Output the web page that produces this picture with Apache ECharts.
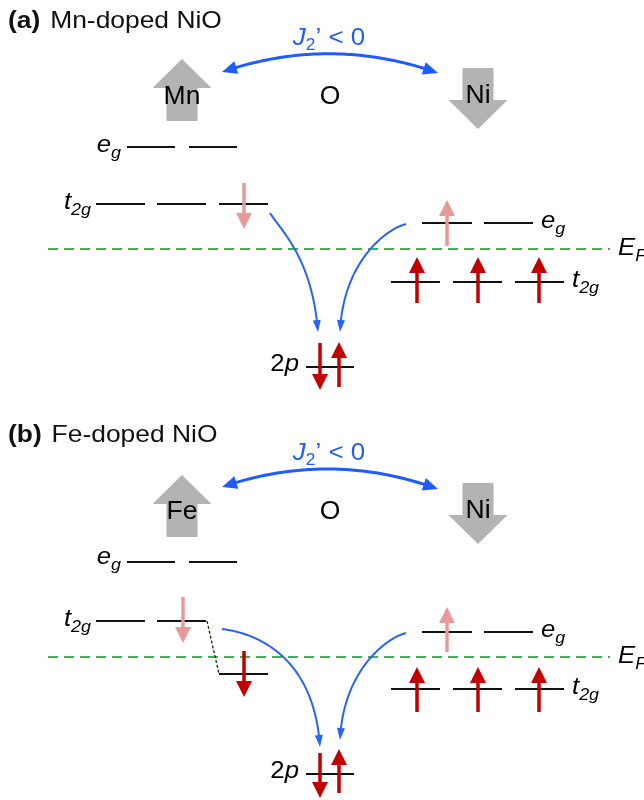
<!DOCTYPE html>
<html>
<head>
<meta charset="utf-8">
<script src="https://cdn.jsdelivr.net/npm/echarts@6/dist/echarts.min.js"></script>
<style>
  html, body { margin: 0; padding: 0; background: #fff; }
  #main { width: 644px; height: 800px; }
</style>
</head>
<body>
<div id="main"></div>
<script>
// Energy levels: [xStart, xEnd, y]
const levels = [
  // (a) Mn eg, Mn t2g
  [127, 175, 147], [189, 237, 147],
  [96, 145, 204], [157, 206, 204], [219, 268, 204],
  // (a) Ni eg, Ni t2g
  [422, 472, 223], [484, 533, 223],
  [391, 440, 282], [453, 502, 282], [515, 564, 282],
  // (a) O 2p
  [306, 354, 367],
  // (b) Fe eg, Fe t2g (one orbital pushed below E_F)
  [127, 175, 562], [189, 237, 562],
  [96, 145, 621], [157, 206, 621], [219, 268, 674],
  // (b) Ni eg, Ni t2g
  [422, 472, 632], [484, 533, 632],
  [391, 440, 689], [453, 502, 689], [515, 564, 689],
  // (b) O 2p
  [306, 354, 774]
];

// Fermi level: [xStart, xEnd, y]
const fermiLevels = [[48, 610, 249], [48, 610, 657]];

// Dashed guide from the Fe t2g level to its shifted copy: [x0, y0, x1, y1]
const levelShifts = [[207, 621, 219, 674]];

// Light spins: [x, yTail, yTip]
const lightSpins = [
  [244, 183, 229], [447, 246, 200],
  [183, 597, 643], [447, 652, 607]
];

// Occupied spins (dark red): [x, yTail, yTip]
const darkSpins = [
  [417, 303, 257], [478, 303, 257], [539, 303, 257],
  [320, 343, 390], [339, 387, 342],
  [244, 651, 697],
  [417, 712, 667], [478, 712, 667], [539, 712, 667],
  [320, 753, 798], [339, 793, 749]
];

// Local moments (grey block arrows): [x, yTail, yTip]
const moments = [
  [182, 121, 59], [478, 68, 129],
  [182, 537, 475], [478, 483, 544]
];

// Exchange path J2' (double-headed, quadratic): [x0, y0, cx, cy, x1, y1]
const exchangeArcs = [
  [222, 72, 330, 35, 438, 73],
  [222, 487, 330, 450, 438, 489]
];

// Hopping into O 2p (cubic): [x0, y0, c1x, c1y, c2x, c2y, x1, y1]
const hoppings = [
  [270, 213, 282, 232, 312, 258, 318, 332],
  [406, 224, 386, 229, 343, 262, 340, 332],
  [222, 629, 255, 633, 314, 655, 320, 747],
  [406, 633, 386, 638, 343, 671, 340, 740]
];

// Text anchors: [x, y]; strings kept in parallel lists
const panelTitles = [[8, 21], [8, 435]];
const panelTitleText = [['(a)', 'Mn-doped NiO'], ['(b)', 'Fe-doped NiO']];

const siteNames = [[182, 97], [330, 97], [478, 96], [182, 512], [330, 512], [478, 511]];
const siteNameText = ['Mn', 'O', 'Ni', 'Fe', 'O', 'Ni'];

const orbitalNames = [
  [121, 146], [91, 203], [541, 222], [572, 281], [299, 365], [618, 249],
  [121, 558], [91, 620], [541, 631], [572, 688], [299, 772], [618, 657]
];
// [main, subscript, align]
const orbitalText = [
  ['e', 'g', 'right'], ['t', '2g', 'right'], ['e', 'g', 'left'], ['t', '2g', 'left'], ['2p', '', 'right'], ['E', 'F', 'left'],
  ['e', 'g', 'right'], ['t', '2g', 'right'], ['e', 'g', 'left'], ['t', '2g', 'left'], ['2p', '', 'right'], ['E', 'F', 'left']
];

const couplingLabels = [[329, 38], [329, 453]];

const FONT = '"Liberation Sans", Arial, Helvetica, sans-serif';
const BLUE = '#1f5cff';
const HOP_BLUE = '#2864f2';
const PINK = '#e8999a';
const RED = '#c20000';
const GREY = '#b3b3b3';
const GREEN = '#3cb454';
const WIDE = 1.1;

function bezierPoints(ctrl, n) {
  const out = [];
  for (let i = 0; i <= n; i++) {
    const t = i / n;
    let p = ctrl.map(c => c.slice());
    while (p.length > 1) {
      const q = [];
      for (let k = 0; k < p.length - 1; k++) {
        q.push([p[k][0] + (p[k + 1][0] - p[k][0]) * t, p[k][1] + (p[k + 1][1] - p[k][1]) * t]);
      }
      p = q;
    }
    out.push(p[0]);
  }
  return out;
}

// Arrow head at the first point of seq, pointing outwards along the curve
function headAt(seq, len, width, color) {
  const tip = seq[0];
  let j = 1;
  while (j < seq.length - 1 && Math.hypot(seq[j][0] - tip[0], seq[j][1] - tip[1]) < len) j++;
  const b = seq[j];
  const dx = tip[0] - b[0], dy = tip[1] - b[1];
  const d = Math.hypot(dx, dy) || 1;
  const ux = dx / d, uy = dy / d;
  const bx = tip[0] - ux * len, by = tip[1] - uy * len;
  return {
    type: 'polygon',
    shape: { points: [tip, [bx - uy * width / 2, by + ux * width / 2], [bx + uy * width / 2, by - ux * width / 2]] },
    style: { fill: color }
  };
}

function curveArrow(ctrlPx, opts) {
  const pts = bezierPoints(ctrlPx, 80);
  const children = [];
  let body = pts;
  const cut = opts.len * 0.6;
  if (opts.end) {
    const tip = pts[pts.length - 1];
    children.push(headAt(pts.slice().reverse(), opts.len, opts.width, opts.color));
    body = body.filter(p => Math.hypot(p[0] - tip[0], p[1] - tip[1]) > cut);
  }
  if (opts.start) {
    const tip = pts[0];
    children.push(headAt(pts, opts.len, opts.width, opts.color));
    body = body.filter(p => Math.hypot(p[0] - tip[0], p[1] - tip[1]) > cut);
  }
  children.unshift({
    type: 'polyline',
    shape: { points: body },
    style: { stroke: opts.color, lineWidth: opts.lineWidth, fill: null, lineCap: 'butt', lineJoin: 'round' }
  });
  return { type: 'group', children };
}

function spinArrow(api, color) {
  const tail = api.coord([api.value(0), api.value(1)]);
  const tip = api.coord([api.value(0), api.value(2)]);
  const dir = Math.sign(tip[1] - tail[1]);
  const headLen = 16, headW = 16, shaftW = 3.5;
  const hb = tip[1] - dir * headLen;
  return {
    type: 'group',
    children: [
      { type: 'line', shape: { x1: tail[0], y1: tail[1], x2: tail[0], y2: hb + dir * 1 }, style: { stroke: color, lineWidth: shaftW } },
      { type: 'polygon', shape: { points: [[tip[0], tip[1]], [tip[0] - headW / 2, hb], [tip[0] + headW / 2, hb]] }, style: { fill: color } }
    ]
  };
}

function textItem(p, text, rich, align, sx) {
  return {
    type: 'text',
    x: p[0], y: p[1],
    scaleX: sx || WIDE,
    style: { text, rich, align, textAlign: align, verticalAlign: 'middle', textVerticalAlign: 'middle' }
  };
}

const base = {
  type: 'custom',
  coordinateSystem: 'cartesian2d',
  silent: true,
  clip: false,
  animation: false
};

const chart = echarts.init(document.getElementById('main'), null, { renderer: 'canvas' });

chart.setOption({
  backgroundColor: '#ffffff',
  animation: false,
  grid: { left: 0, right: 0, top: 0, bottom: 0 },
  xAxis: { type: 'value', min: 0, max: 644, show: false },
  yAxis: { type: 'value', min: 0, max: 800, inverse: true, show: false },
  series: [
    Object.assign({}, base, {
      name: 'fermi',
      data: fermiLevels,
      encode: { x: [0, 1], y: 2 },
      renderItem(params, api) {
        const a = api.coord([api.value(0), api.value(2)]);
        const b = api.coord([api.value(1), api.value(2)]);
        return { type: 'line', shape: { x1: a[0], y1: a[1], x2: b[0], y2: b[1] }, style: { stroke: GREEN, lineWidth: 2, lineDash: [10, 6] } };
      }
    }),
    Object.assign({}, base, {
      name: 'moments',
      data: moments,
      encode: { x: 0, y: [1, 2] },
      renderItem(params, api) {
        const tail = api.coord([api.value(0), api.value(1)]);
        const tip = api.coord([api.value(0), api.value(2)]);
        const dir = Math.sign(tip[1] - tail[1]);
        const headLen = 29, headHalf = 29.5, shaftHalf = 15.5;
        const hb = tip[1] - dir * headLen;
        const x = tip[0];
        return {
          type: 'polygon',
          shape: { points: [
            [x - shaftHalf, tail[1]], [x + shaftHalf, tail[1]], [x + shaftHalf, hb], [x + headHalf, hb],
            [x, tip[1]], [x - headHalf, hb], [x - shaftHalf, hb]
          ] },
          style: { fill: GREY }
        };
      }
    }),
    Object.assign({}, base, {
      name: 'levels',
      data: levels,
      encode: { x: [0, 1], y: 2 },
      renderItem(params, api) {
        const a = api.coord([api.value(0), api.value(2)]);
        const b = api.coord([api.value(1), api.value(2)]);
        return { type: 'line', shape: { x1: a[0], y1: a[1], x2: b[0], y2: b[1] }, style: { stroke: '#111', lineWidth: 2 } };
      }
    }),
    Object.assign({}, base, {
      name: 'shift',
      data: levelShifts,
      encode: { x: [0, 2], y: [1, 3] },
      renderItem(params, api) {
        const a = api.coord([api.value(0), api.value(1)]);
        const b = api.coord([api.value(2), api.value(3)]);
        return { type: 'line', shape: { x1: a[0], y1: a[1], x2: b[0], y2: b[1] }, style: { stroke: '#222', lineWidth: 1.3, lineDash: [3, 2] } };
      }
    }),
    Object.assign({}, base, {
      name: 'lightSpins',
      data: lightSpins,
      encode: { x: 0, y: [1, 2] },
      renderItem(params, api) { return spinArrow(api, PINK); }
    }),
    Object.assign({}, base, {
      name: 'darkSpins',
      data: darkSpins,
      encode: { x: 0, y: [1, 2] },
      renderItem(params, api) { return spinArrow(api, RED); }
    }),
    Object.assign({}, base, {
      name: 'exchange',
      data: exchangeArcs,
      encode: { x: [0, 2, 4], y: [1, 3, 5] },
      renderItem(params, api) {
        const c = [0, 2, 4].map(i => api.coord([api.value(i), api.value(i + 1)]));
        return curveArrow(c, { start: true, end: true, len: 15, width: 13, color: BLUE, lineWidth: 3 });
      }
    }),
    Object.assign({}, base, {
      name: 'hopping',
      data: hoppings,
      encode: { x: [0, 2, 4, 6], y: [1, 3, 5, 7] },
      renderItem(params, api) {
        const c = [0, 2, 4, 6].map(i => api.coord([api.value(i), api.value(i + 1)]));
        return curveArrow(c, { start: false, end: true, len: 12, width: 8, color: HOP_BLUE, lineWidth: 2 });
      }
    }),
    Object.assign({}, base, {
      name: 'titles',
      data: panelTitles,
      renderItem(params, api) {
        const p = api.coord([api.value(0), api.value(1)]);
        const t = panelTitleText[params.dataIndex];
        return textItem(p, '{b|' + t[0] + '}{r|' + t[1] + '}', {
          b: { fontFamily: FONT, fontSize: 24, fontWeight: 'bold', fill: '#111' },
          r: { fontFamily: FONT, fontSize: 24, fill: '#111', padding: [0, 0, 0, 9] }
        }, 'left');
      }
    }),
    Object.assign({}, base, {
      name: 'sites',
      data: siteNames,
      renderItem(params, api) {
        const p = api.coord([api.value(0), api.value(1)]);
        return textItem(p, '{r|' + siteNameText[params.dataIndex] + '}', {
          r: { fontFamily: FONT, fontSize: 25, fill: '#000' }
        }, 'center', 1.06);
      }
    }),
    Object.assign({}, base, {
      name: 'orbitals',
      data: orbitalNames,
      renderItem(params, api) {
        const p = api.coord([api.value(0), api.value(1)]);
        const t = orbitalText[params.dataIndex];
        const txt = t[0] === '2p' ? '{u|2}{m|p}' : '{m|' + t[0] + '}{s|' + t[1] + '}';
        return textItem(p, txt, {
          m: { fontFamily: FONT, fontSize: 23, fontStyle: 'italic', fill: '#000', lineHeight: 32 },
          u: { fontFamily: FONT, fontSize: 23, fill: '#000', lineHeight: 32 },
          s: { fontFamily: FONT, fontSize: 16, fontStyle: 'italic', fill: '#000', lineHeight: 17, verticalAlign: 'bottom' }
        }, t[2], 1.12);
      }
    }),
    Object.assign({}, base, {
      name: 'coupling',
      data: couplingLabels,
      renderItem(params, api) {
        const p = api.coord([api.value(0), api.value(1)]);
        return textItem(p, '{m|J}{s|2}{u|\u2019 < 0}', {
          m: { fontFamily: FONT, fontSize: 24, fontStyle: 'italic', fill: BLUE, lineHeight: 32 },
          u: { fontFamily: FONT, fontSize: 24, fill: BLUE, lineHeight: 32 },
          s: { fontFamily: FONT, fontSize: 16, fill: BLUE, lineHeight: 17, verticalAlign: 'bottom' }
        }, 'center', 1.08);
      }
    })
  ]
});
</script>
</body>
</html>
